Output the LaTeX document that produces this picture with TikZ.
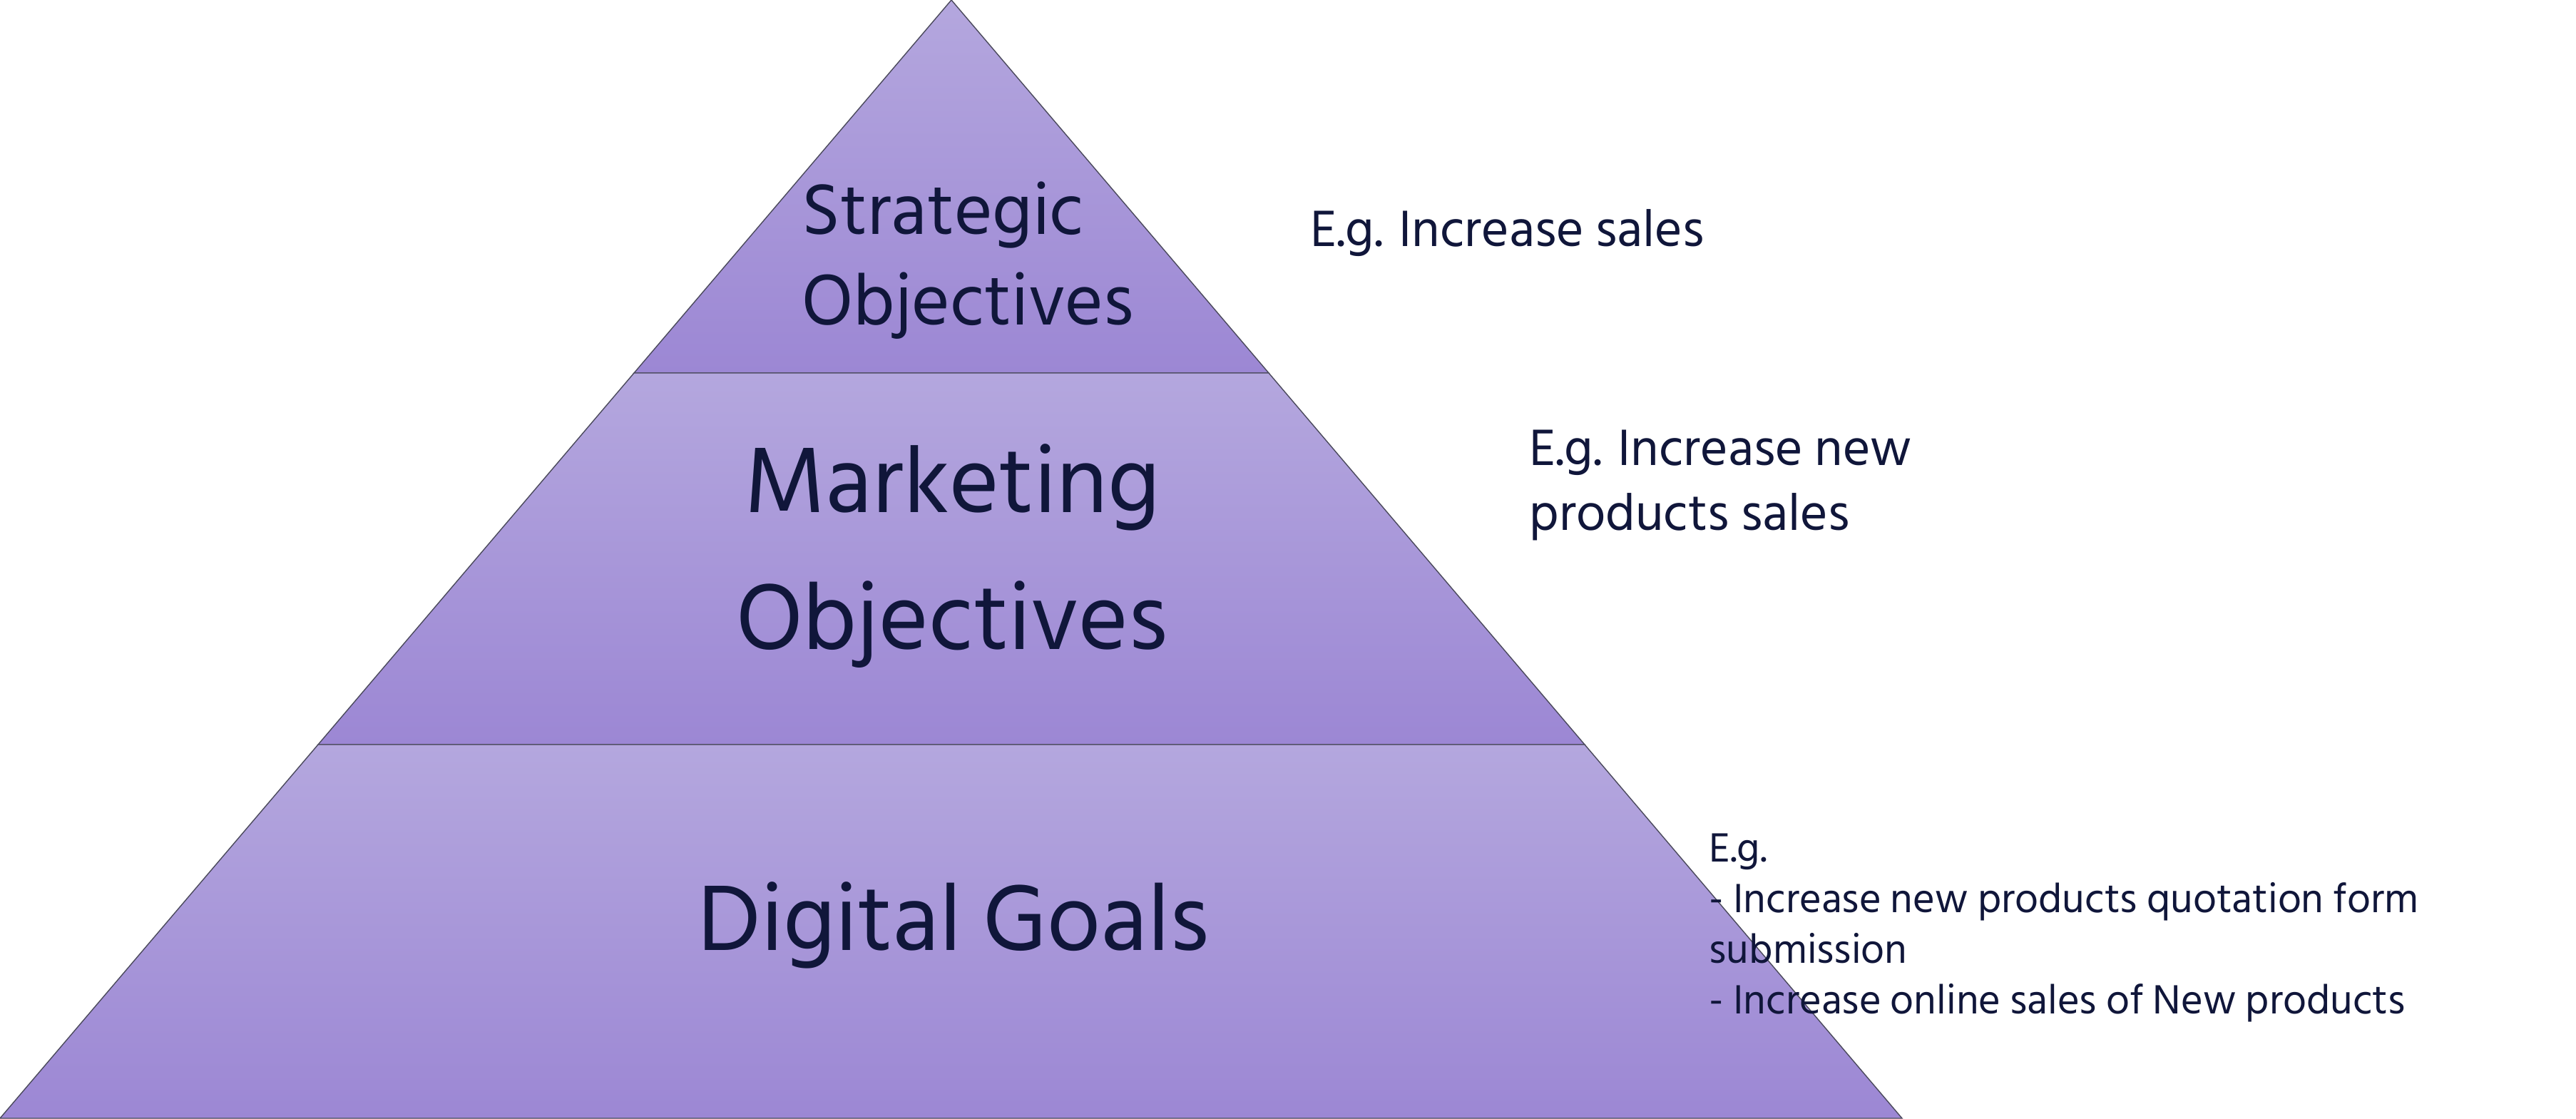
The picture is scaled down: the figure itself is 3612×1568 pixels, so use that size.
\documentclass[tikz,border=0pt]{standalone}
\usepackage{fontspec}
\setmainfont{Hind Siliguri}
\definecolor{bandtop}{HTML}{B4A7DE}
\definecolor{bandbot}{HTML}{9C87D4}
\definecolor{ink}{HTML}{10163A}
\definecolor{edge}{HTML}{4B4A5C}
\tikzstyle{band}=[top color=bandtop,bottom color=bandbot,draw=edge,line width=0.4pt]
\tikzstyle{levelbig}=[inner sep=0pt,text=ink,align=center,font=\fontsize{38pt}{54.5pt}\selectfont]
\tikzstyle{levelsmall}=[inner sep=0pt,text=ink,align=left,font=\fontsize{29.2pt}{36pt}\selectfont]
\tikzstyle{example}=[inner sep=0pt,text=ink,align=left,anchor=base west]

\begin{document}
\begin{tikzpicture}[x=0.1mm,y=-0.1mm]
    \useasboundingbox (0,0) rectangle (3612,1568);
    \coordinate (apex) at (1334,0);
    \coordinate (l1) at (889,523);
    \coordinate (r1) at (1779,523);
    \coordinate (l2) at (446,1044);
    \coordinate (r2) at (2222,1044);
    \coordinate (l3) at (0,1568);
    \coordinate (r3) at (2667,1568);

    \shade[band] (apex) -- (r1) -- (l1) -- cycle;
    \shade[band] (l1) -- (r1) -- (r2) -- (l2) -- cycle;
    \shade[band] (l2) -- (r2) -- (r3) -- (l3) -- cycle;

    % base anchor = baseline of the last line
    \node[levelsmall,anchor=base west] (strat) at (1124,455) {Strategic\\Objectives};
    \node[levelbig,anchor=base] (mkt) at (1335,910) {Marketing\\Objectives};
    \node[levelbig,anchor=base] (dig) at (1337,1332) {Digital Goals};

    \node[example,font=\fontsize{20.9pt}{25.7pt}\selectfont] (eg1) at (1837,345) {E.g. Increase sales};
    \node[example,font=\fontsize{20.9pt}{25.7pt}\selectfont] (eg2) at (2144,743) {E.g. Increase new\\products sales};
    \node[example,font=\fontsize{16.7pt}{20.2pt}\selectfont] (eg3) at (2396,1421) {E.g.\\- Increase new products quotation form\\submission\\- Increase online sales of New products};
\end{tikzpicture}
\end{document}
